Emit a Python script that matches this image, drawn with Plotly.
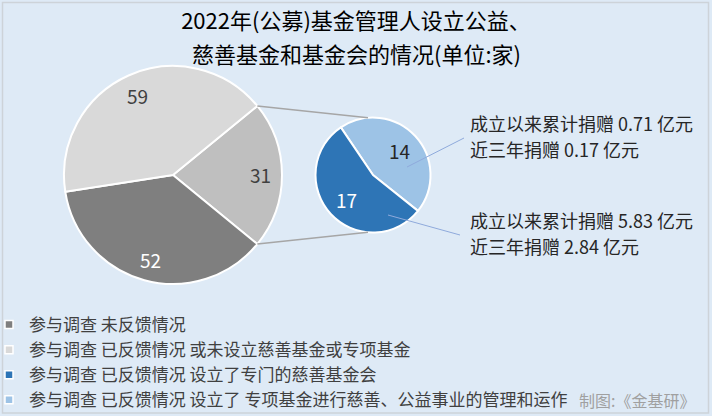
import math
import plotly.graph_objects as go

# 数据 (单位: 家)
main_labels = ['参与调查 未反馈情况', '参与调查 已反馈情况 或未设立慈善基金或专项基金']
main_values = [52, 59]
sec_labels = ['参与调查 已反馈情况 设立了 专项基金进行慈善、公益事业的管理和运作',
              '参与调查 已反馈情况 设立了专门的慈善基金会']
sec_values = [14, 17]
donate_total = [0.71, 5.83]   # 成立以来累计捐赠 (亿元)
donate_recent = [0.17, 2.84]  # 近三年捐赠 (亿元)
title_lines = ['2022年(公募)基金管理人设立公益、', '慈善基金和基金会的情况(单位:家)']

W, H = 712, 416
FONT = 'Noto Sans CJK SC'


def px(x):
    return x / W


def py(y):
    return 1 - y / H


# 饼图位置 (像素)
MCX, MCY, MR = 173, 175, 109
SCX, SCY, SR = 373, 175, 57.5

main_colors = ['#BFBFBF', '#7F7F7F', '#D9D9D9']
sec_colors = ['#9DC3E6', '#2E75B6']
legend_colors = ['#7F7F7F', '#D9D9D9', '#2E75B6', '#9DC3E6']

other = sum(sec_values)
pie_main = [other] + main_values
main_total = sum(pie_main)
main_rot = 90 - other / main_total * 180   # 其他部分居于右侧
sec_rot = -34

fig = go.Figure()
fig.add_trace(go.Pie(
    values=pie_main, labels=['其他'] + main_labels, sort=False, direction='clockwise',
    rotation=main_rot, marker=dict(colors=main_colors, line=dict(color='white', width=2)),
    textinfo='none', hoverinfo='label+value', showlegend=False,
    domain=dict(x=[px(MCX - MR), px(MCX + MR)], y=[py(MCY + MR), py(MCY - MR)])))
fig.add_trace(go.Pie(
    values=sec_values, labels=sec_labels, sort=False, direction='clockwise',
    rotation=sec_rot, marker=dict(colors=sec_colors, line=dict(color='white', width=2)),
    textinfo='none', hoverinfo='label+value', showlegend=False,
    domain=dict(x=[px(SCX - SR), px(SCX + SR)], y=[py(SCY + SR), py(SCY - SR)])))

# 图例
leg_names = main_labels + sec_labels[::-1]
for name, c in zip(leg_names, legend_colors):
    fig.add_trace(go.Scatter(x=[None], y=[None], mode='markers', name=name,
                             marker=dict(symbol='square', size=8, color=c,
                                         line=dict(color='white', width=1.5))))

annotations = []


def slice_labels(values, rot, cx, cy, r, frac, colors):
    tot = sum(values)
    a = rot
    for v, c in zip(values, colors):
        span = v / tot * 360
        mid = math.radians(a + span / 2)
        x = cx + r * frac * math.sin(mid)
        y = cy - r * frac * math.cos(mid)
        annotations.append(dict(x=px(x), y=py(y), xref='paper', yref='paper', text=str(v),
                                xanchor='center', yanchor='middle', showarrow=False,
                                font=dict(size=19, color=c, family=FONT)))
        a += span


slice_labels(pie_main, main_rot, MCX, MCY, MR, 0.8, ['#404040', 'white', '#404040'])
slice_labels(sec_values, sec_rot, SCX, SCY, SR, 0.62, ['#262626', 'white'])

# 连接线
shapes = []
for ang_m, ang_s in [(main_rot, -5), (main_rot + other / main_total * 360, 185)]:
    am, as_ = math.radians(ang_m), math.radians(ang_s)
    shapes.append(dict(type='line', xref='paper', yref='paper',
                       x0=px(MCX + MR * math.sin(am)), y0=py(MCY - MR * math.cos(am)),
                       x1=px(SCX + SR * math.sin(as_)), y1=py(SCY - SR * math.cos(as_)),
                       line=dict(color='#A6A6A6', width=1.5)))
# 引导线
for (x0, y0, x1, y1) in [(407, 167, 464, 138), (388, 215, 460, 235)]:
    shapes.append(dict(type='line', xref='paper', yref='paper', x0=px(x0), y0=py(y0),
                       x1=px(x1), y1=py(y1), line=dict(color='#8FAADC', width=1)))
# 外框
shapes.append(dict(type='rect', xref='paper', yref='paper', x0=px(2.5), y0=py(413),
                   x1=px(708.5), y1=py(2.5), line=dict(color='#CDD3D9', width=1.5)))

# 捐赠说明
for i, y0 in enumerate([123, 220]):
    for txt, yy in [('成立以来累计捐赠 %.2f 亿元' % donate_total[i], y0),
                    ('近三年捐赠 %.2f 亿元' % donate_recent[i], y0 + 26)]:
        annotations.append(dict(x=px(468), y=py(yy), xref='paper', yref='paper', text=txt,
                                xanchor='left', yanchor='middle', showarrow=False,
                                font=dict(size=18, color='#262626', family=FONT)))

# 标题第二行 (行距比 <br> 大, 单独放)
annotations.append(dict(x=0.5, y=py(53), xref='paper', yref='paper', text=title_lines[1],
                        xanchor='center', yanchor='middle', showarrow=False,
                        font=dict(size=22, color='black', family=FONT)))

annotations.append(dict(x=px(697), y=py(400), xref='paper', yref='paper', text='制图:《金基研》',
                        xanchor='right', yanchor='middle', showarrow=False,
                        font=dict(size=16, color='#A0A0A0', family=FONT)))

fig.update_layout(
    width=W, height=H, margin=dict(l=0, r=0, t=0, b=0, autoexpand=False),
    paper_bgcolor='#DEEAF6', plot_bgcolor='rgba(0,0,0,0)',
    font=dict(family=FONT),
    title=dict(text=title_lines[0], x=0.5, xanchor='center', y=py(21), yanchor='middle',
               yref='container', font=dict(size=22, color='black', family=FONT)),
    xaxis=dict(visible=False), yaxis=dict(visible=False),
    legend=dict(x=px(-11), y=py(307), xanchor='left', yanchor='top', bgcolor='rgba(0,0,0,0)',
                font=dict(size=17, color='#404040', family=FONT), tracegroupgap=0),
    annotations=annotations, shapes=shapes)

# 去掉页面默认边距, 使图表贴齐窗口
fig.write_html('out.html', config={'displayModeBar': False},
               post_script="document.body.style.margin='0';")
